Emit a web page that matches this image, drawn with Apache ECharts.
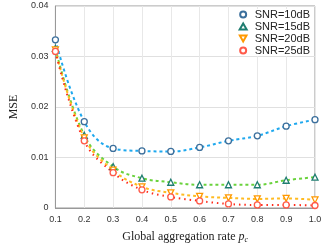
<!DOCTYPE html>
<html><head><meta charset="utf-8">
<script src="https://cdn.jsdelivr.net/npm/echarts@6/dist/echarts.min.js"></script>
<style>html,body{margin:0;padding:0;background:#fff}#c{width:327px;height:249px}</style>
</head><body><div id="c"></div>
<script>
const categories = ['0.1','0.2','0.3','0.4','0.5','0.6','0.7','0.8','0.9','1.0'];
const snr10 = [0.0333,0.0171,0.0118,0.0113,0.0112,0.0120,0.0133,0.0143,0.0162,0.0175];
const snr15 = [0.0316,0.0144,0.0082,0.0059,0.0051,0.0046,0.0046,0.0046,0.0055,0.0061];
const snr20 = [0.0313,0.0139,0.0075,0.0042,0.0030,0.0023,0.0020,0.0018,0.0019,0.0016];
const snr25 = [0.0310,0.0133,0.0070,0.0036,0.0022,0.0014,0.0008,0.0006,0.0006,0.0005];
const names = ['SNR=10dB','SNR=15dB','SNR=20dB','SNR=25dB'];

const chart = echarts.init(document.getElementById('c'), null, {renderer:'canvas'});
function mk(name, data, lineColor, markColor, symbol, lineType, rotate){
  return {
    name, type:'line', data, smooth:0.4, symbol, symbolSize:6, symbolRotate: rotate||0,
    showAllSymbol:true,
    lineStyle:{color:lineColor, width:2, type:lineType},
    itemStyle:{color:'#fff', borderColor:markColor, borderWidth:1.3},
    emphasis:{disabled:true}
  };
}
chart.setOption({
  animation:false,
  grid:{left:46, right:12, top:6, bottom:38, show:true, borderColor:'#999', borderWidth:1},
  legend:{
    data:[
      {name:names[0], icon:'circle'},
      {name:names[1], icon:'triangle'},
      {name:names[2], icon:'path://M0,0 L10,0 L5,9 Z'},
      {name:names[3], icon:'circle'}
    ],
    top:9, right:15, orient:'vertical', itemGap:1, itemWidth:7, itemHeight:6,
    backgroundColor:'#fff',
    textStyle:{fontFamily:'Liberation Sans', fontSize:11, color:'#222', lineHeight:11, padding:[0,0,0,3]},
    padding:[0,2,0,4]
  },
  xAxis:{
    type:'category', data:categories, boundaryGap:false,
    name:'{n|Global aggregation rate }{i|p}{s|c}', nameLocation:'middle', nameGap:22,
    nameTextStyle:{rich:{
      n:{fontFamily:'Liberation Serif', fontSize:12, color:'#222'},
      i:{fontFamily:'Liberation Serif', fontSize:12, fontStyle:'italic', color:'#222'},
      s:{fontFamily:'Liberation Serif', fontSize:8, fontStyle:'italic', color:'#222', padding:[6,0,0,0]}
    }},
    axisLine:{show:true, lineStyle:{color:'#999'}},
    axisTick:{show:false},
    axisLabel:{fontFamily:'Liberation Sans', fontSize:9, color:'#333', margin:7},
    splitLine:{show:true, lineStyle:{color:'#e8e8e8', width:1}}
  },
  yAxis:{
    type:'value', min:0, max:0.04, interval:0.01,
    name:'MSE', nameLocation:'middle', nameGap:31,
    nameTextStyle:{fontFamily:'Liberation Serif', fontSize:12, color:'#222'},
    axisLine:{show:true, lineStyle:{color:'#999'}},
    axisTick:{show:false},
    axisLabel:{fontFamily:'Liberation Sans', fontSize:9, color:'#333', margin:7},
    splitLine:{show:true, lineStyle:{color:'#e0e0e0', width:1}}
  },
  series:[
    mk(names[0], snr10, '#1ea8ee', '#3b6f9c', 'circle', [3,3]),
    mk(names[1], snr15, '#6ad23c', '#1f7d70', 'triangle', [3,3]),
    mk(names[2], snr20, '#ffbb22', '#ff9900', 'triangle', [3,3], 180),
    mk(names[3], snr25, '#ff2a1a', '#ff5a4a', 'circle', [1.5,4])
  ]
});
</script></body></html>
